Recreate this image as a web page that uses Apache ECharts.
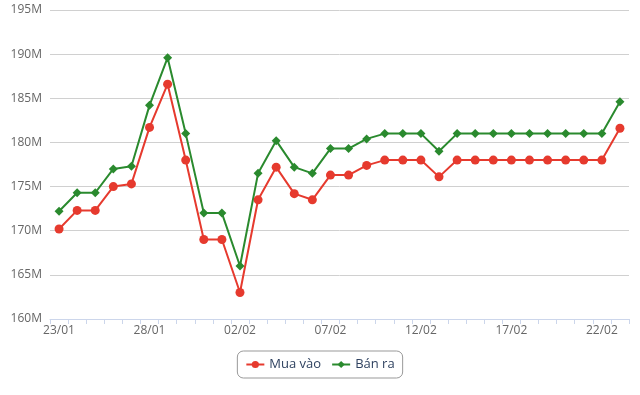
<!DOCTYPE html>
<html>
<head>
<meta charset="utf-8">
<script src="https://cdn.jsdelivr.net/npm/echarts@6/dist/echarts.min.js"></script>
<style>
html,body{margin:0;padding:0;background:#fff;}
#chart{width:640px;height:395px;}
</style>
</head>
<body>
<div id="chart"></div>
<script>
// Dates (23/01 .. 23/02)
var categories = ['23/01','24/01','25/01','26/01','27/01','28/01','29/01','30/01','31/01','01/02',
  '02/02','03/02','04/02','05/02','06/02','07/02','08/02','09/02','10/02','11/02',
  '12/02','13/02','14/02','15/02','16/02','17/02','18/02','19/02','20/02','21/02','22/02','23/02'];
// Values in millions
var muaVao = [170.2,172.3,172.3,175.0,175.3,181.7,186.6,178.0,169.0,169.0,
  163.0,173.5,177.2,174.2,173.5,176.3,176.3,177.4,178.0,178.0,
  178.0,176.1,178.0,178.0,178.0,178.0,178.0,178.0,178.0,178.0,178.0,181.6];
var banRa = [172.2,174.3,174.3,177.0,177.3,184.2,189.6,181.0,172.0,172.0,
  166.0,176.5,180.2,177.2,176.5,179.3,179.3,180.4,181.0,181.0,
  181.0,179.0,181.0,181.0,181.0,181.0,181.0,181.0,181.0,181.0,181.0,184.6];
var yMin = 160, yMax = 195, yStep = 5;

var chart = echarts.init(document.getElementById('chart'), null, {renderer:'canvas'});
chart.setOption({
  animation:false,
  textStyle:{fontFamily:'"Open Sans", "Noto Sans", sans-serif'},
  grid:{left:50,right:11,top:10,bottom:76,containLabel:false},
  legend:{
    bottom:17, left:'center',
    data:['Mua vào','Bán ra'],
    borderColor:'#999', borderWidth:1, borderRadius:6,
    padding:[7,8,7,8],
    itemWidth:18, itemHeight:9, itemGap:10,
    textStyle:{color:'#2f4260',fontSize:13}
  },
  xAxis:{
    type:'category', data:categories, boundaryGap:true,
    axisLine:{lineStyle:{color:'#ccd6eb'}},
    axisTick:{show:true,interval:0,length:5,lineStyle:{color:'#ccd6eb'}},
    axisLabel:{interval:4,color:'#666',fontSize:12,margin:6}
  },
  yAxis:{
    type:'value', min:yMin, max:yMax, interval:yStep,
    axisLine:{show:false}, axisTick:{show:false},
    axisLabel:{formatter:function(v){return v+'M';},color:'#666',fontSize:12,margin:8},
    splitLine:{lineStyle:{color:'#d0d0d0',width:1}}
  },
  series:[
    {name:'Mua vào',type:'line',data:muaVao,symbol:'circle',symbolSize:9,
     itemStyle:{color:'#e63a2e'},lineStyle:{color:'#e63a2e',width:2}},
    {name:'Bán ra',type:'line',data:banRa,symbol:'diamond',symbolSize:9,
     itemStyle:{color:'#2a8a2e'},lineStyle:{color:'#2a8a2e',width:2}}
  ]
});
</script>
</body>
</html>
